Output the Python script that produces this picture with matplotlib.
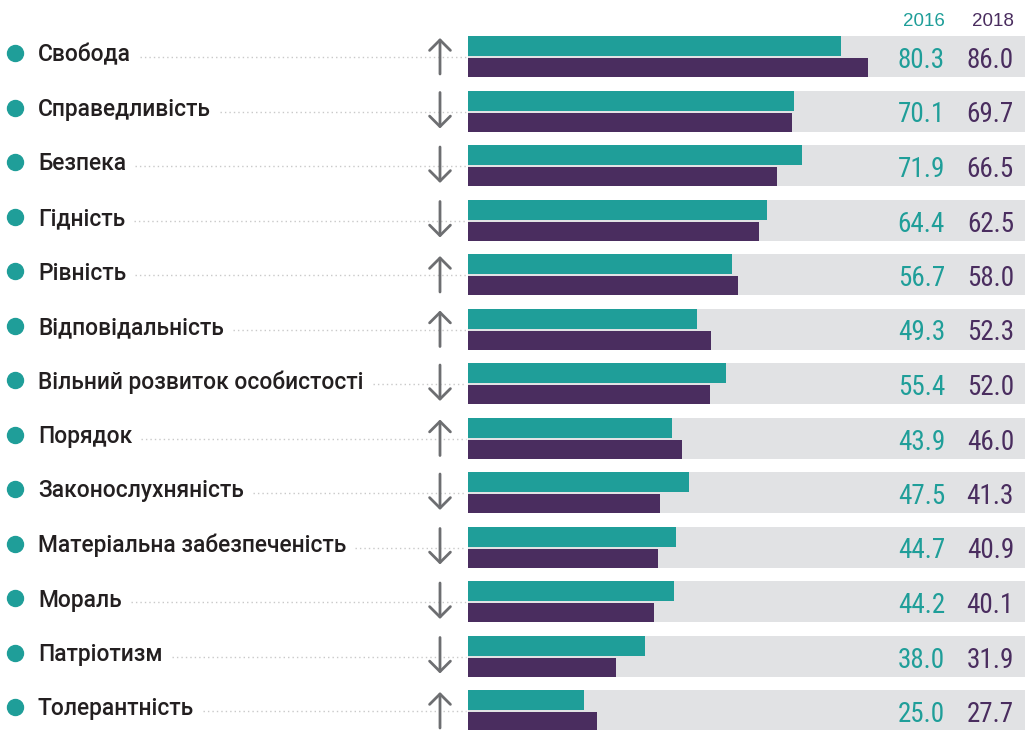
import matplotlib
matplotlib.use("Agg")
import matplotlib.pyplot as plt
from matplotlib.patches import FancyArrowPatch, Rectangle

categories = ["Свобода", "Справедливість", "Безпека", "Гідність", "Рівність",
              "Відповідальність", "Вільний розвиток особистості", "Порядок",
              "Законослухняність", "Матеріальна забезпеченість", "Мораль",
              "Патріотизм", "Толерантність"]
values_2016 = [80.3, 70.1, 71.9, 64.4, 56.7, 49.3, 55.4, 43.9, 47.5, 44.7, 44.2, 38.0, 25.0]
values_2018 = [86.0, 69.7, 66.5, 62.5, 58.0, 52.3, 52.0, 46.0, 41.3, 40.9, 40.1, 31.9, 27.7]
years = ["2016", "2018"]

TEAL = "#1f9e99"
PURPLE = "#4a2d5f"
GRAY_BAND = "#e1e2e4"
TEXT = "#231f20"
ARROW = "#6d6e71"

W, H = 1025, 730
PX_PER_UNIT = 4.65
X0 = 468  # pixel where bars start

fig = plt.figure(figsize=(W / 100, H / 100), dpi=100)
ax = fig.add_axes([0, 0, 1, 1])
ax.set_xlim(-X0 / PX_PER_UNIT, (W - X0) / PX_PER_UNIT)
ax.set_ylim(H, 0)
ax.axis("off")

def px(x):
    return (x - X0) / PX_PER_UNIT

ROW0 = 36
PITCH = 54.5
XMAX = (W - X0) / PX_PER_UNIT

label_font = dict(family=["Roboto", "DejaVu Sans"], fontsize=16.4, color=TEXT, weight="medium")
num_font = ["Liberation Sans Narrow", "Roboto Condensed", "Liberation Sans", "DejaVu Sans"]

texts = []
for i, (cat, v16, v18) in enumerate(zip(categories, values_2016, values_2018)):
    top = ROW0 + i * PITCH
    ax.add_patch(Rectangle((0, top), XMAX, 41, facecolor=GRAY_BAND, edgecolor="none", zorder=1))
    ax.barh(top + 10, v16, height=20, left=0, color=TEAL, zorder=2)
    ax.barh(top + 31.5, v18, height=19, left=0, color=PURPLE, zorder=2)
    ax.plot([px(15)], [top + 17], "o", color=TEAL, markersize=11.5, zorder=3)
    t = ax.text(px(38), top + 25.5, cat, va="baseline", ha="left", **label_font)
    texts.append((t, top))
    up = v18 > v16
    y_start, y_end = (top + 38, top + 2) if up else (top + 2, top + 38)
    arr = FancyArrowPatch((px(440), y_start), (px(440), y_end),
                          arrowstyle="->,head_length=0.75,head_width=0.75",
                          mutation_scale=10, color=ARROW, lw=2.0, zorder=4,
                          shrinkA=0, shrinkB=0)
    ax.add_patch(arr)
    ax.text(px(945), top + 32, f"{v16:.1f}", ha="right", va="baseline",
            color=TEAL, fontsize=19.5, family=num_font)
    ax.text(px(1014), top + 32, f"{v18:.1f}", ha="right", va="baseline",
            color=PURPLE, fontsize=19.5, family=num_font)

ax.text(px(945), 26.5, years[0], ha="right", va="baseline", color=TEAL, fontsize=13.5,
        family=["Liberation Sans", "DejaVu Sans"])
ax.text(px(1014), 26.5, years[1], ha="right", va="baseline", color=PURPLE, fontsize=13.5,
        family=["Liberation Sans", "DejaVu Sans"])

fig.canvas.draw()
renderer = fig.canvas.get_renderer()
for t, top in texts:
    bb = t.get_window_extent(renderer)
    x_end_px = bb.x1 + 9
    ax.plot([px(x_end_px), px(466)], [top + 21, top + 21], color="#c9c9c9",
            lw=1.0, linestyle=(0, (1, 2.2)), zorder=0)

fig.savefig("out.png", dpi=100)
